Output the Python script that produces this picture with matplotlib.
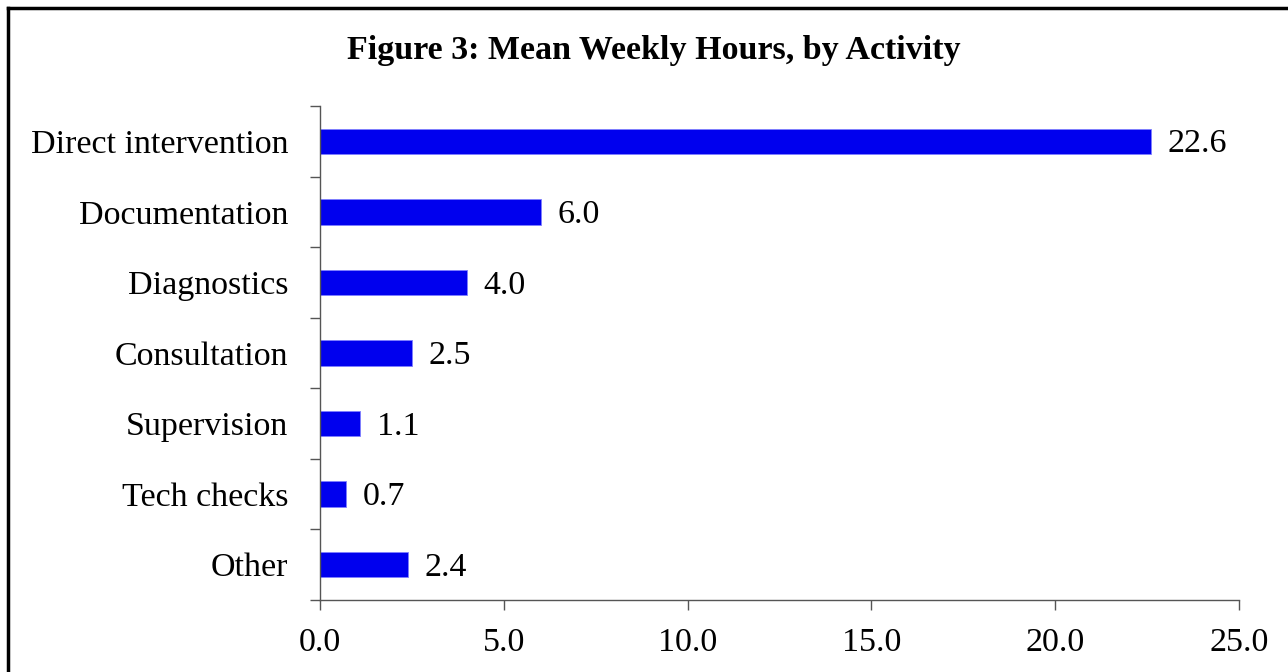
import matplotlib
matplotlib.use("Agg")
import matplotlib.pyplot as plt
from matplotlib.lines import Line2D

activities = ["Direct intervention", "Documentation", "Diagnostics",
              "Consultation", "Supervision", "Tech checks", "Other"]
hours = [22.6, 6.0, 4.0, 2.5, 1.1, 0.7, 2.4]
xticks = [0, 5, 10, 15, 20, 25]

plt.rcParams['font.family'] = ['Liberation Serif', 'DejaVu Serif']

fig = plt.figure(figsize=(12.88, 6.72), dpi=100)
ax = fig.add_axes([320/1288, 1 - 600/672, (1239-320)/1288, (600-106)/672])

pos = list(range(len(activities)))
ax.barh(pos, hours, height=0.36, color="#0000EE", edgecolor="#8080FF", linewidth=0.6)
for p, h in zip(pos, hours):
    ax.text(h + 0.45, p + 0.04, f"{h:.1f}", va="center", ha="left", fontsize=24.5)

ax.set_ylim(len(activities) - 0.5, -0.5)
ax.set_xlim(0, 25)
ax.set_yticks(pos)
ax.set_yticklabels(activities, fontsize=24.5)
ax.set_yticks([i - 0.5 for i in range(len(activities) + 1)], minor=True)
ax.tick_params(axis="y", which="major", length=0, pad=23)
ax.tick_params(axis="y", which="minor", length=7, color="#555555", width=1)
ax.set_xticks(xticks)
ax.set_xticklabels([f"{t:.1f}" for t in xticks], fontsize=24.5)
ax.tick_params(axis="x", length=7, color="#555555", width=1, pad=13)

for s in ["top", "right"]:
    ax.spines[s].set_visible(False)
for s in ["left", "bottom"]:
    ax.spines[s].set_color("#555555")
    ax.spines[s].set_linewidth(1)

fig.text(654/1288, 1 - 51/672, "Figure 3: Mean Weekly Hours, by Activity",
         ha="center", va="center", fontsize=24.5, fontweight="bold")

# outer frame (cropped at right and bottom)
fig.add_artist(Line2D([8/1288, 1], [1 - 8/672, 1 - 8/672], color="black", lw=2.5,
                      transform=fig.transFigure))
fig.add_artist(Line2D([8/1288, 8/1288], [0, 1 - 8/672], color="black", lw=2.5,
                      transform=fig.transFigure))

fig.savefig("out.png", dpi=100)
